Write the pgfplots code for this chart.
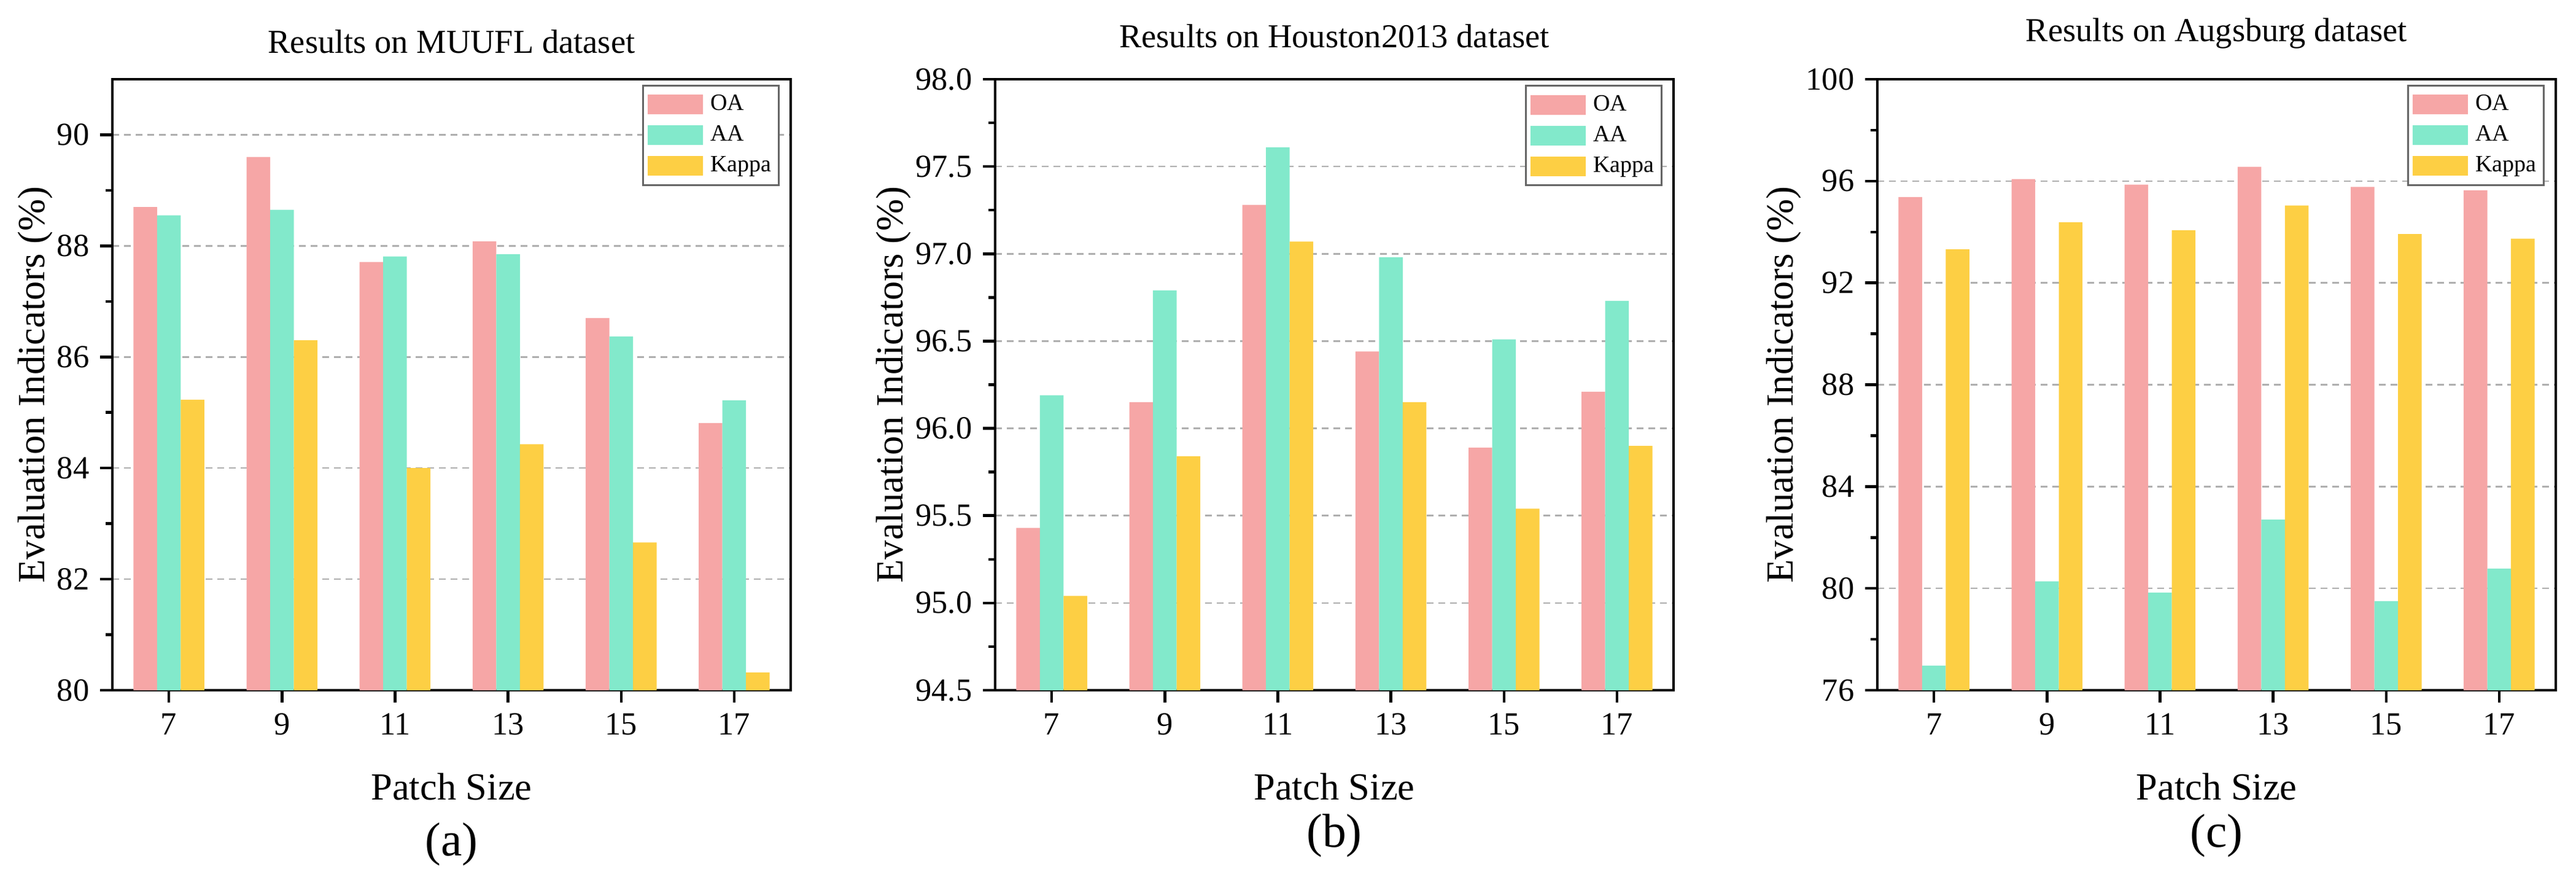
\documentclass[border=0pt]{standalone}
\usepackage{fontspec}
\setmainfont{Liberation Serif}
\usepackage{pgfplots}
\pgfplotsset{compat=1.18}
\definecolor{oa}{RGB}{246,166,166}
\definecolor{aa}{RGB}{130,233,203}
\definecolor{kp}{RGB}{253,207,68}
\definecolor{gridgray}{RGB}{175,175,175}
\pgfplotsset{
  myaxis/.style={
    scale only axis, width=221pt, height=199pt,
    anchor=south west,
    xmin=-0.5, xmax=5.5, xtick={0,...,5}, xticklabels={7,9,11,13,15,17},
    ybar=0pt, bar width=7.7pt,
    tick align=outside, tick pos=left,
    major tick length=4pt, minor tick length=2.2pt,
    minor y tick num=1,
    axis line style={line width=0.9pt},
    every tick/.style={black, line width=0.9pt},
    ymajorgrids,
    grid style={gridgray, line width=0.5pt, dash pattern=on 2.2pt off 1.6pt},
    /pgf/number format/assume math mode=true,
    tick label style={font=\rmfamily\fontsize{10.5}{12}\selectfont},
    xlabel={Patch Size}, ylabel={Evaluation Indicators (\%)},
    label style={font=\rmfamily\fontsize{12.5}{14}\selectfont},
    xlabel style={at={(axis description cs:0.5,0)}, anchor=base, yshift=-35.6pt},
    ylabel style={yshift=-5.4pt},
    title style={font=\rmfamily\fontsize{10.9}{12}\selectfont, anchor=base, at={(axis description cs:0.5,1)}},
    legend image code/.code={\fill[#1] (0pt,-3.2pt) rectangle (18pt,3.2pt);},
    legend style={font=\rmfamily\fontsize{7.6}{9}\selectfont, draw=black!60, line width=0.6pt,
      at={(1,1)}, anchor=north east, xshift=-3.6pt, yshift=-1.8pt,
      inner xsep=1.4pt, inner ysep=1.6pt, row sep=0.8pt, column sep=1.5pt,
      nodes={inner sep=1pt, text height=5.5pt, text depth=1.7pt},
      cells={anchor=west}},
    legend cell align=left,
  },
  oastyle/.style={fill=oa, draw=none},
  aastyle/.style={fill=aa, draw=none},
  kpstyle/.style={fill=kp, draw=none},
}
\begin{document}
\begin{tikzpicture}
\useasboundingbox (-36.6pt,-61.6pt) rectangle (802.6pt,224.8pt);
% (a)
\begin{axis}[myaxis, at={(0pt,0pt)},
  ymin=80, ymax=91, ytick={80,82,...,90},
  title={Results on MUUFL dataset}, title style={yshift=2.4pt}]
\addplot[oastyle] coordinates {(0,88.70) (1,89.60) (2,87.71) (3,88.08) (4,86.70) (5,84.81)};
\addplot[aastyle] coordinates {(0,88.55) (1,88.65) (2,87.81) (3,87.85) (4,86.37) (5,85.22)};
\addplot[kpstyle] coordinates {(0,85.23) (1,86.30) (2,84.00) (3,84.43) (4,82.66) (5,80.32)};
\legend{OA,AA,Kappa}
\end{axis}
\node[anchor=base, font=\rmfamily\fontsize{15.5}{17}\selectfont] at (110.5pt,-53.8pt) {(a)};
% (b)
\begin{axis}[myaxis, at={(287.6pt,0pt)},
  ymin=94.5, ymax=98, ytick={94.5,95,...,98},
  yticklabel style={/pgf/number format/.cd, fixed, fixed zerofill, precision=1},
  title={Results on Houston2013 dataset}, title style={yshift=4.4pt}]
\addplot[oastyle] coordinates {(0,95.43) (1,96.15) (2,97.28) (3,96.44) (4,95.89) (5,96.21)};
\addplot[aastyle] coordinates {(0,96.19) (1,96.79) (2,97.61) (3,96.98) (4,96.51) (5,96.73)};
\addplot[kpstyle] coordinates {(0,95.04) (1,95.84) (2,97.07) (3,96.15) (4,95.54) (5,95.90)};
\legend{OA,AA,Kappa}
\end{axis}
\node[anchor=base, font=\rmfamily\fontsize{15.5}{17}\selectfont] at (398.1pt,-51pt) {(b)};
% (c)
\begin{axis}[myaxis, at={(575pt,0pt)},
  ymin=76, ymax=100, ytick={76,80,...,100},
  title={Results on Augsburg dataset}, title style={yshift=6.2pt}]
\addplot[oastyle] coordinates {(0,95.37) (1,96.08) (2,95.86) (3,96.56) (4,95.77) (5,95.64)};
\addplot[aastyle] coordinates {(0,76.97) (1,80.28) (2,79.83) (3,82.70) (4,79.50) (5,80.78)};
\addplot[kpstyle] coordinates {(0,93.32) (1,94.38) (2,94.07) (3,95.04) (4,93.92) (5,93.74)};
\legend{OA,AA,Kappa}
\end{axis}
\node[anchor=base, font=\rmfamily\fontsize{15.5}{17}\selectfont] at (685.5pt,-51pt) {(c)};
\end{tikzpicture}
\end{document}
